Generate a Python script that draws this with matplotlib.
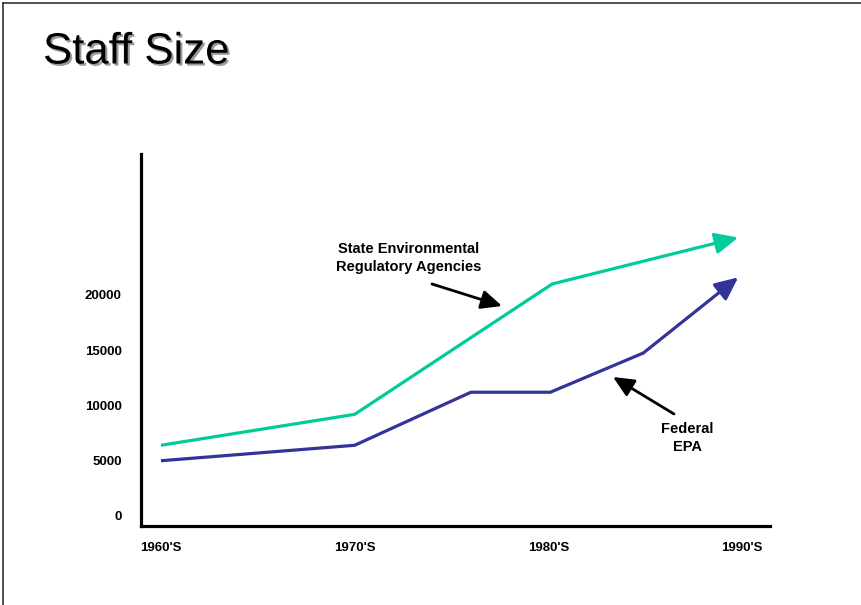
import numpy as np
import matplotlib
matplotlib.use("Agg")
import matplotlib.pyplot as plt
import matplotlib.patheffects as pe
from matplotlib.lines import Line2D

plt.rcParams['font.family'] = ['Liberation Sans', 'DejaVu Sans']

# data
decades = [1960, 1970, 1980, 1990]
decade_labels = ["1960'S", "1970'S", "1980'S", "1990'S"]

state_x = [1960, 1970, 1980.2, 1989.8]
state_y = [6400, 9200, 21000, 25200]

federal_x = [1960, 1970, 1976, 1980.1, 1984.9, 1989.8]
federal_y = [5000, 6400, 11200, 11200, 14750, 21600]

yticks = [0, 5000, 10000, 15000, 20000]

green = '#00CC99'
blue = '#333399'

fig = plt.figure(figsize=(8.61, 6.05), dpi=100)
ax = fig.add_axes([141 / 861, (605 - 525.7) / 605, (770 - 141) / 861, (525.7 - 154) / 605])

head = '-|>,head_length=0.7,head_width=0.32'


def draw_series(xs, ys, color):
    # line up to the last point, final segment ends in an arrowhead
    ax.plot(xs[:-1], ys[:-1], color=color, lw=2.3, solid_capstyle='butt', solid_joinstyle='miter')
    ax.annotate('', xy=(xs[-1], ys[-1]), xytext=(xs[-2], ys[-2]),
                arrowprops=dict(arrowstyle=head, color=color, lw=2.3,
                                mutation_scale=20, shrinkA=0, shrinkB=0))


draw_series(state_x, state_y, green)
draw_series(federal_x, federal_y, blue)

ax.set_xlim(1958.97, 1991.44)
ax.set_ylim(-878, 32760)

ax.set_xticks(decades)
ax.set_xticklabels(decade_labels, fontweight='bold', fontsize=9.5)
ax.set_yticks(yticks)
ax.set_yticklabels([str(v) for v in yticks], fontweight='bold', fontsize=9.5)
ax.tick_params(axis='both', length=0)
ax.tick_params(axis='y', pad=14)
ax.tick_params(axis='x', pad=12)

for s in ['top', 'right']:
    ax.spines[s].set_visible(False)
for s in ['left', 'bottom']:
    ax.spines[s].set_linewidth(2.3)
    ax.spines[s].set_color('black')

# annotations (figure pixel coordinates)
pix = lambda x, y: (x / 861, 1 - y / 605)

fig.text(*pix(409, 258), 'State Environmental\nRegulatory Agencies', ha='center', va='center',
         fontsize=10.5, fontweight='bold', linespacing=1.4)
fig.text(*pix(687, 438), 'Federal\nEPA', ha='center', va='center',
         fontsize=10.5, fontweight='bold', linespacing=1.3)

ax.annotate('', xy=pix(502, 306), xytext=pix(432, 284), xycoords='figure fraction',
            textcoords='figure fraction',
            arrowprops=dict(arrowstyle=head, color='black', lw=2, mutation_scale=18,
                            shrinkA=0, shrinkB=0))
ax.annotate('', xy=pix(613, 377), xytext=pix(674, 414), xycoords='figure fraction',
            textcoords='figure fraction',
            arrowprops=dict(arrowstyle=head, color='black', lw=2, mutation_scale=18,
                            shrinkA=0, shrinkB=0))

# slide title with drop shadow
fig.text(*pix(43, 52), 'Staff Size', ha='left', va='center', fontsize=31.5,
         path_effects=[pe.SimplePatchShadow(offset=(1.5, -1.5), shadow_rgbFace='#9a9a9a', alpha=1),
                       pe.Normal()])

# slide frame (top and left edges)
fig.add_artist(Line2D([3 / 861, 3 / 861], [0, 1 - 3 / 605], color='#333333', lw=1.2))
fig.add_artist(Line2D([3 / 861, 1], [1 - 3 / 605, 1 - 3 / 605], color='#333333', lw=1.2))

fig.savefig('out.png', dpi=100)
